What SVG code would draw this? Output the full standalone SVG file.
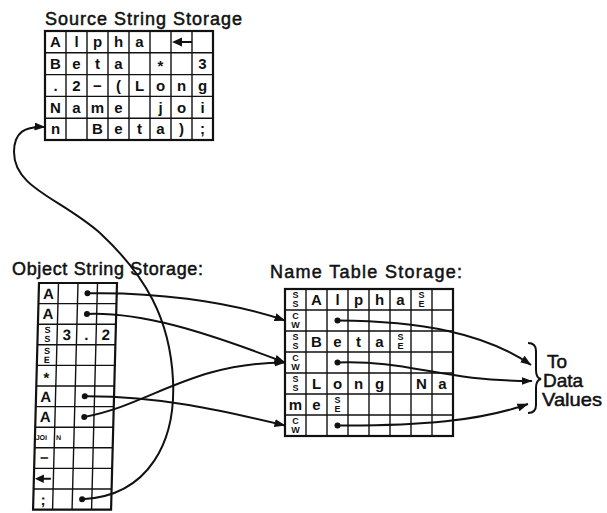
<svg xmlns="http://www.w3.org/2000/svg" width="607" height="513" viewBox="0 0 607 513">
  <style>
    .title { font-family: "Liberation Sans", Arial, sans-serif; font-size: 18px; fill: #111; stroke: #111; stroke-width: 0.5; }
    .note { font-family: "Liberation Sans", Arial, sans-serif; font-size: 19px; fill: #111; stroke: #111; stroke-width: 0.5; }
    .cell { font-family: "Liberation Sans", Arial, sans-serif; font-size: 15px; font-weight: bold; fill: #111; text-anchor: middle; }
    .tiny { font-family: "Liberation Sans", Arial, sans-serif; font-size: 9px; font-weight: bold; fill: #111; text-anchor: middle; }
    .small { font-family: "Liberation Sans", Arial, sans-serif; font-size: 7px; font-weight: bold; fill: #111; }
    .frame { fill: none; stroke: #111; stroke-width: 2.2; }
    .rule { fill: none; stroke: #111; stroke-width: 1.4; }
    .link { fill: none; stroke: #111; stroke-width: 2; }
    .dot { fill: #111; }
    .sym { fill: #111; stroke: #111; stroke-width: 2; }
  </style>
  <defs>
    <marker id="head" viewBox="0 0 11 8" refX="10.5" refY="4" markerWidth="11" markerHeight="8" markerUnits="userSpaceOnUse" orient="auto">
      <path d="M0 0 L11 4 L0 8 Z" fill="#111"/>
    </marker>
  </defs>
  <rect width="607" height="513" fill="#fff"/>

  <!-- Source string storage: 8 x 5 character cells -->
  <g id="source-storage">
    <text class="title" x="45" y="25" textLength="197" lengthAdjust="spacing">Source String Storage</text>
    <rect class="frame" x="45" y="31" width="168" height="109"/>
    <path class="rule" d="M66 31V140M87 31V140M108 31V140M129 31V140M150 31V140M171 31V140M192 31V140M45 52.8H213M45 74.6H213M45 96.4H213M45 118.2H213"/>
    <!-- row 1 -->
    <text class="cell" x="55.5" y="47.3">A</text>
    <text class="cell" x="76.5" y="47.3">l</text>
    <text class="cell" x="97.5" y="47.3">p</text>
    <text class="cell" x="118.5" y="47.3">h</text>
    <text class="cell" x="139.5" y="47.3">a</text>
    <path class="sym" d="M180 42H192"/>
    <path d="M172 42L182 37.5V46.5Z" fill="#111"/>
    <!-- row 2 -->
    <text class="cell" x="55.5" y="69">B</text>
    <text class="cell" x="76.5" y="69">e</text>
    <text class="cell" x="97.5" y="69">t</text>
    <text class="cell" x="118.5" y="69">a</text>
    <text class="cell" x="160.5" y="71">*</text>
    <text class="cell" x="202.5" y="69">3</text>
    <!-- row 3 -->
    <text class="cell" x="55.5" y="90.8">.</text>
    <text class="cell" x="76.5" y="90.8">2</text>
    <text class="cell" x="97.5" y="90.8">−</text>
    <text class="cell" x="118.5" y="90.8">(</text>
    <text class="cell" x="139.5" y="90.8">L</text>
    <text class="cell" x="160.5" y="90.8">o</text>
    <text class="cell" x="181.5" y="90.8">n</text>
    <text class="cell" x="202.5" y="90.8">g</text>
    <!-- row 4 -->
    <text class="cell" x="55.5" y="112.6">N</text>
    <text class="cell" x="76.5" y="112.6">a</text>
    <text class="cell" x="97.5" y="112.6">m</text>
    <text class="cell" x="118.5" y="112.6">e</text>
    <text class="cell" x="160.5" y="112.6">j</text>
    <text class="cell" x="181.5" y="112.6">o</text>
    <text class="cell" x="202.5" y="112.6">i</text>
    <!-- row 5 -->
    <text class="cell" x="55.5" y="134.4">n</text>
    <text class="cell" x="97.5" y="134.4">B</text>
    <text class="cell" x="118.5" y="134.4">e</text>
    <text class="cell" x="139.5" y="134.4">t</text>
    <text class="cell" x="160.5" y="134.4">a</text>
    <text class="cell" x="181.5" y="134.4">)</text>
    <text class="cell" x="202.5" y="134.4">;</text>
  </g>

  <!-- Object string storage: 4 x 11 cells, slightly slanted -->
  <g id="object-storage">
    <text class="title" x="12" y="275" textLength="191" lengthAdjust="spacing">Object String Storage:</text>
    <g transform="translate(39 283) skewX(-1.5)">
      <rect class="frame" x="0" y="0" width="78" height="226.6"/>
      <path class="rule" d="M19.5 0V226.6M39 0V226.6M58.5 0V226.6M0 20.6H78M0 41.2H78M0 61.8H78M0 82.4H78M0 103H78M0 123.6H78M0 144.2H78M0 164.8H78M0 185.4H78M0 206H78"/>
      <text class="cell" x="9.75" y="15.6">A</text>
      <text class="cell" x="9.75" y="36.2">A</text>
      <text class="tiny" x="9.75" y="50.3">S</text>
      <text class="tiny" x="9.75" y="59">S</text>
      <text class="cell" x="29.25" y="56.8">3</text>
      <text class="cell" x="48.75" y="56.8">.</text>
      <text class="cell" x="68.25" y="56.8">2</text>
      <text class="tiny" x="9.75" y="70.9">S</text>
      <text class="tiny" x="9.75" y="79.6">E</text>
      <text class="cell" x="9.75" y="99.8">*</text>
      <text class="cell" x="9.75" y="118.6">A</text>
      <text class="cell" x="9.75" y="139.2">A</text>
      <text class="small" x="0.8" y="157">JOI</text>
      <text class="small" x="21" y="157">N</text>
      <text class="cell" x="9.75" y="180.4">−</text>
      <path class="sym" d="M8 195.7H17"/>
      <path d="M1 195.7L10 191.5V199.9Z" fill="#111"/>
      <text class="cell" x="9.75" y="221.6">;</text>
      <circle class="dot" cx="48.75" cy="10.3" r="3"/>
      <circle class="dot" cx="48.75" cy="30.9" r="3"/>
      <circle class="dot" cx="48.75" cy="113.3" r="3"/>
      <circle class="dot" cx="48.75" cy="133.9" r="3"/>
      <circle class="dot" cx="48.75" cy="216.3" r="3"/>
    </g>
  </g>

  <!-- Name table storage: 8 x 7 cells -->
  <g id="name-table">
    <text class="title" x="270" y="278" textLength="192" lengthAdjust="spacing">Name Table Storage:</text>
    <rect class="frame" x="285" y="289" width="168" height="147"/>
    <path class="rule" d="M306 289V436M327 289V436M348 289V436M369 289V436M390 289V436M411 289V436M432 289V436M285 310H453M285 331H453M285 352H453M285 373H453M285 394H453M285 415H453"/>
    <!-- row 1 -->
    <text class="tiny" x="295.5" y="298.3">S</text>
    <text class="tiny" x="295.5" y="307">S</text>
    <text class="cell" x="316.5" y="304.8">A</text>
    <text class="cell" x="337.5" y="304.8">l</text>
    <text class="cell" x="358.5" y="304.8">p</text>
    <text class="cell" x="379.5" y="304.8">h</text>
    <text class="cell" x="400.5" y="304.8">a</text>
    <text class="tiny" x="421.5" y="298.3">S</text>
    <text class="tiny" x="421.5" y="307">E</text>
    <!-- row 2 -->
    <text class="tiny" x="295.5" y="318.5">C</text>
    <text class="tiny" x="295.5" y="328">W</text>
    <circle class="dot" cx="337.5" cy="320.5" r="3"/>
    <!-- row 3 -->
    <text class="tiny" x="295.5" y="340.3">S</text>
    <text class="tiny" x="295.5" y="349">S</text>
    <text class="cell" x="316.5" y="346.8">B</text>
    <text class="cell" x="337.5" y="346.8">e</text>
    <text class="cell" x="358.5" y="346.8">t</text>
    <text class="cell" x="379.5" y="346.8">a</text>
    <text class="tiny" x="400.5" y="340.3">S</text>
    <text class="tiny" x="400.5" y="349">E</text>
    <!-- row 4 -->
    <text class="tiny" x="295.5" y="360.5">C</text>
    <text class="tiny" x="295.5" y="370">W</text>
    <circle class="dot" cx="337.5" cy="362.5" r="3"/>
    <!-- row 5 -->
    <text class="tiny" x="295.5" y="382.3">S</text>
    <text class="tiny" x="295.5" y="391">S</text>
    <text class="cell" x="316.5" y="388.8">L</text>
    <text class="cell" x="337.5" y="388.8">o</text>
    <text class="cell" x="358.5" y="388.8">n</text>
    <text class="cell" x="379.5" y="388.8">g</text>
    <text class="cell" x="421.5" y="388.8">N</text>
    <text class="cell" x="442.5" y="388.8">a</text>
    <!-- row 6 -->
    <text class="cell" x="295.5" y="409.8">m</text>
    <text class="cell" x="316.5" y="409.8">e</text>
    <text class="tiny" x="337.5" y="403.3">S</text>
    <text class="tiny" x="337.5" y="412">E</text>
    <!-- row 7 -->
    <text class="tiny" x="295.5" y="423.5">C</text>
    <text class="tiny" x="295.5" y="433">W</text>
    <circle class="dot" cx="337.5" cy="425.5" r="3"/>
  </g>

  <!-- Data values target -->
  <g id="data-values">
    <path class="link" d="M528 343Q536 343 536 351V370Q536 378 541 379Q536 380 536 388V405Q536 413 528 413"/>
    <text class="note" x="547" y="368">To</text>
    <text class="note" x="543" y="387">Data</text>
    <text class="note" x="542" y="406" textLength="60" lengthAdjust="spacingAndGlyphs">Values</text>
  </g>

  <g id="connectors">
    <!-- object string references into the name table -->
    <path class="link" marker-end="url(#head)" d="M87.5 293.3C150 292 225 300 285 320.5"/>
    <path class="link" marker-end="url(#head)" d="M87 313.9C140 312 200 330 285 362.5"/>
    <path class="link" marker-end="url(#head)" d="M84.3 416.9C150 405 190 363 285 362.5"/>
    <path class="link" marker-end="url(#head)" d="M84.8 396.3C160 396 220 410 285 425.5"/>
    <!-- statement terminator back to the source text -->
    <path class="link" marker-end="url(#head)" d="M82.1 499.3C150 496 176 440 173 380C170 318 145 275 100 233C60 198 14 188 14 152C14 132 25 126 45 127"/>
    <!-- name table entries out to their data values -->
    <path class="link" marker-end="url(#head)" d="M337.5 320.5C420 321 485 333 531 365"/>
    <path class="link" marker-end="url(#head)" d="M337.5 362.5C410 360 440 381 532 381"/>
    <path class="link" marker-end="url(#head)" d="M337.5 425.5C420 426 480 421 528 404"/>
  </g>
</svg>
